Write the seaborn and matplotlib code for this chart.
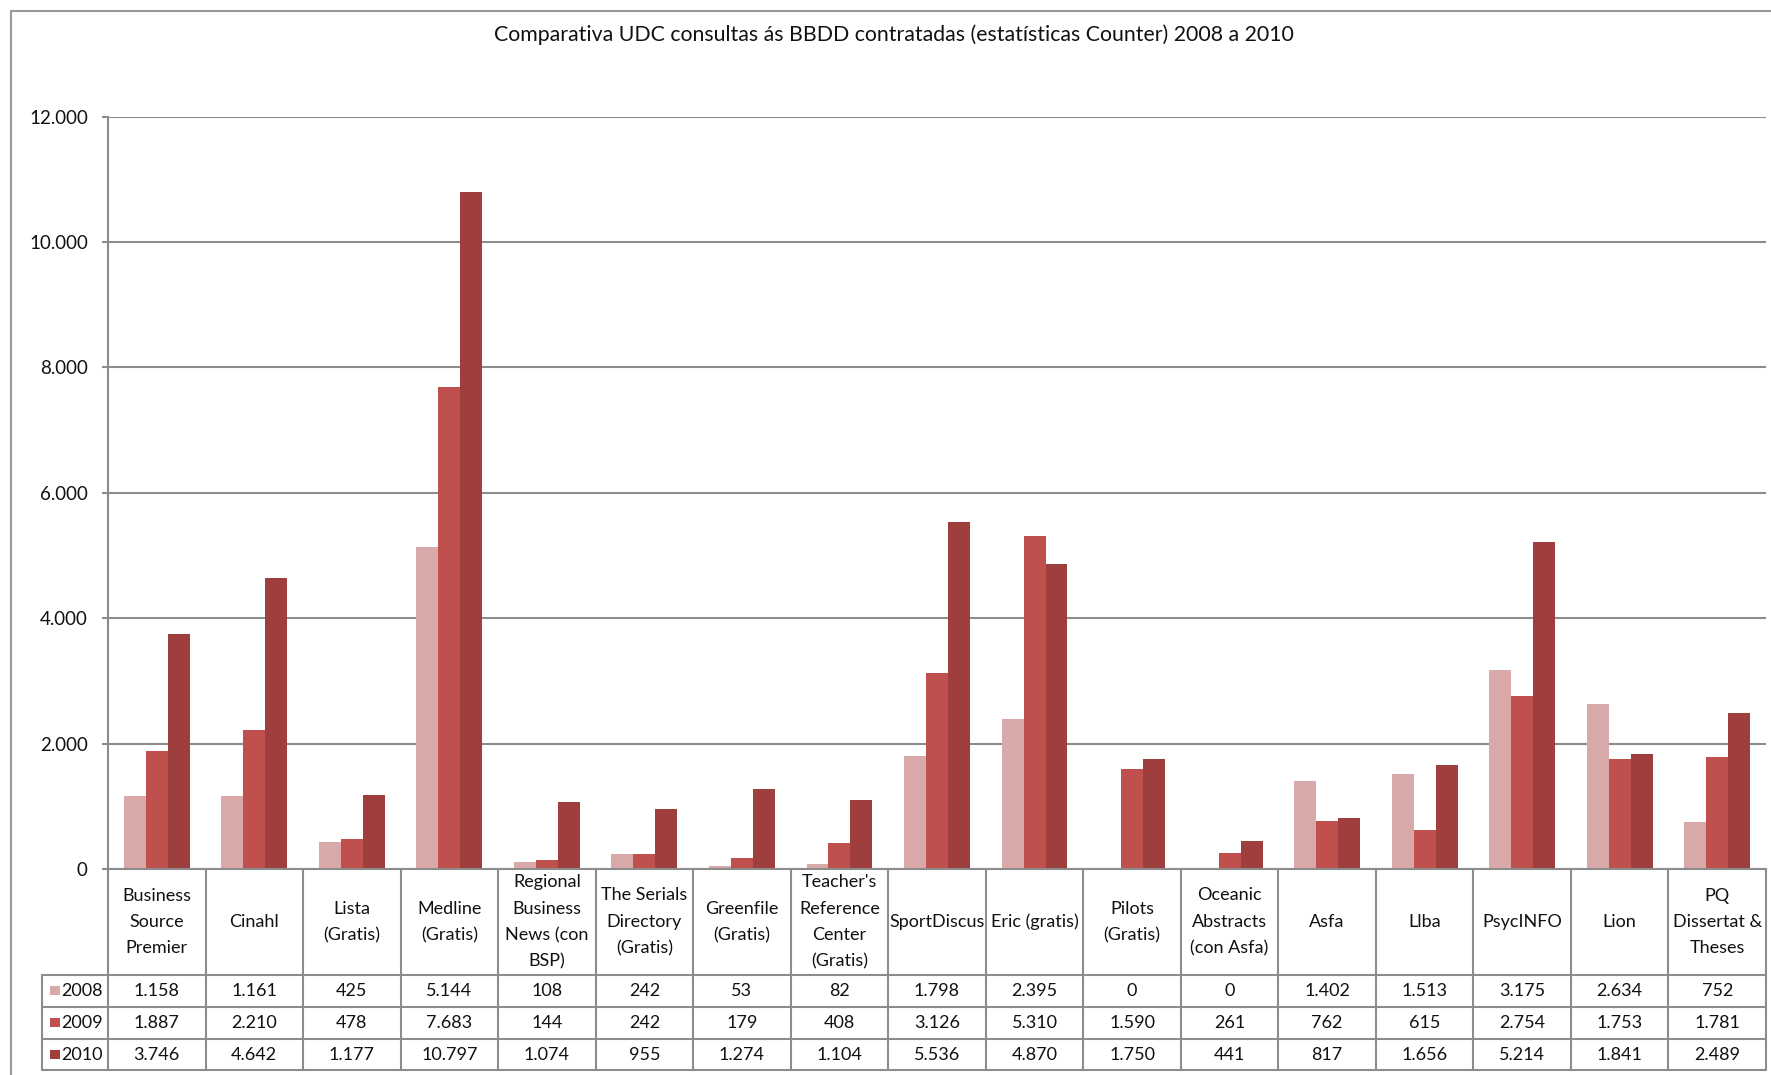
import pandas as pd
import numpy as np
import matplotlib
matplotlib.use('Agg')
import matplotlib.pyplot as plt
import matplotlib.transforms as mtransforms
from matplotlib.patches import Rectangle
from matplotlib.lines import Line2D
import seaborn as sns

bases = ["Business Source Premier", "Cinahl", "Lista (Gratis)", "Medline (Gratis)",
         "Regional Business News (con BSP)", "The Serials Directory (Gratis)",
         "Greenfile (Gratis)", "Teacher's Reference Center (Gratis)", "SportDiscus",
         "Eric (gratis)", "Pilots (Gratis)", "Oceanic Abstracts (con Asfa)", "Asfa",
         "Llba", "PsycINFO", "Lion", "PQ Dissertat & Theses"]
header_labels = ["Business\nSource\nPremier", "Cinahl", "Lista\n(Gratis)", "Medline\n(Gratis)",
                 "Regional\nBusiness\nNews (con\nBSP)", "The Serials\nDirectory\n(Gratis)",
                 "Greenfile\n(Gratis)", "Teacher's\nReference\nCenter\n(Gratis)", "SportDiscus",
                 "Eric (gratis)", "Pilots\n(Gratis)", "Oceanic\nAbstracts\n(con Asfa)", "Asfa",
                 "Llba", "PsycINFO", "Lion", "PQ\nDissertat &\nTheses"]
years = ["2008", "2009", "2010"]
v2008 = [1158, 1161, 425, 5144, 108, 242, 53, 82, 1798, 2395, 0, 0, 1402, 1513, 3175, 2634, 752]
v2009 = [1887, 2210, 478, 7683, 144, 242, 179, 408, 3126, 5310, 1590, 261, 762, 615, 2754, 1753, 1781]
v2010 = [3746, 4642, 1177, 10797, 1074, 955, 1274, 1104, 5536, 4870, 1750, 441, 817, 1656, 5214, 1841, 2489]
colors = ["#D9A9A9", "#C0504D", "#9E3E3D"]

title = "Comparativa UDC consultas ás BBDD contratadas (estatísticas Counter) 2008 a 2010"

rows = []
for y, vals in zip(years, [v2008, v2009, v2010]):
    for b, v in zip(bases, vals):
        rows.append({"base": b, "ano": y, "valor": v})
df = pd.DataFrame(rows)

sns.set_style("white")
plt.rcParams['font.family'] = ['Lato', 'DejaVu Sans']

W, H = 1771, 1075
fig = plt.figure(figsize=(W / 100, H / 100), dpi=100)

# plot area in pixels
x0, x1, ytop, ybot = 108, 1766, 116.7, 869
ax = fig.add_axes([x0 / W, 1 - ybot / H, (x1 - x0) / W, (ybot - ytop) / H])

sns.barplot(data=df, x="base", y="valor", hue="ano", order=bases, hue_order=years,
            palette=colors, saturation=1, width=0.675, linewidth=0, legend=False, ax=ax)

grid_c = "#8C8C8C"
txt_c = "#111111"
ax.set_ylim(0, 12000)
ax.set_xlim(-0.5, len(bases) - 0.5)
ax.set_yticks(np.arange(0, 12001, 2000))
ax.set_yticklabels([f"{int(t):,}".replace(",", ".") for t in ax.get_yticks()], fontsize=13.5, color=txt_c)
ax.yaxis.grid(True, color=grid_c, linewidth=1.5)
ax.set_axisbelow(True)
ax.tick_params(axis='y', length=4.5, width=1.5, color=grid_c, pad=10, left=True)
ax.tick_params(axis='x', length=0, labelbottom=False)
ax.set_xlabel("")
ax.set_ylabel("")
for s in ["top", "right"]:
    ax.spines[s].set_visible(False)
ax.spines["left"].set_color(grid_c)
ax.spines["left"].set_linewidth(1.5)
ax.spines["bottom"].set_color(grid_c)
ax.spines["bottom"].set_linewidth(1.5)

# data table below the axis
tr = mtransforms.blended_transform_factory(ax.transData, fig.transFigure)
def fy(p):
    return 1 - p / H

row_y = [869, 975, 1006.7, 1039, 1070]
n = len(bases)
lab_left = -0.5 - (x0 - 41.7) / ((x1 - x0) / n)
lw = 1.5
for i in range(n + 1):
    xx = i - 0.5
    ax.add_line(Line2D([xx, xx], [fy(row_y[0]), fy(row_y[-1])], transform=tr, color=grid_c, lw=lw, clip_on=False))
for yy in row_y[1:]:
    ax.add_line(Line2D([lab_left, n - 0.5], [fy(yy), fy(yy)], transform=tr, color=grid_c, lw=lw, clip_on=False))
ax.add_line(Line2D([lab_left, lab_left], [fy(row_y[1]), fy(row_y[-1])], transform=tr, color=grid_c, lw=lw, clip_on=False))

for i, lab in enumerate(header_labels):
    ax.text(i, fy((row_y[0] + row_y[1]) / 2), lab, transform=tr, ha="center", va="center",
            fontsize=13, linespacing=1.8, color=txt_c)

for r, (y, vals, c) in enumerate(zip(years, [v2008, v2009, v2010], colors)):
    yc = (row_y[r + 1] + row_y[r + 2]) / 2
    for i, v in enumerate(vals):
        ax.text(i, fy(yc), f"{v:,}".replace(",", "."), transform=tr, ha="center", va="center",
                fontsize=13, color=txt_c)
    fig.add_artist(Rectangle((50 / W, fy(yc + 4.5)), 10 / W, 9 / H, transform=fig.transFigure,
                             facecolor=c, edgecolor="none"))
    fig.text(61 / W, fy(yc), y, ha="left", va="center", fontsize=13, color=txt_c)

# title and outer frame
fig.text(894 / W, fy(35), title, ha="center", va="center", fontsize=15.3, color=txt_c)
fig.add_artist(Line2D([11 / W, 11 / W], [0, fy(11)], transform=fig.transFigure, color="#9A9A9A", lw=1.5))
fig.add_artist(Line2D([11 / W, 1], [fy(11), fy(11)], transform=fig.transFigure, color="#9A9A9A", lw=1.5))

fig.savefig("out.png", dpi=100)
